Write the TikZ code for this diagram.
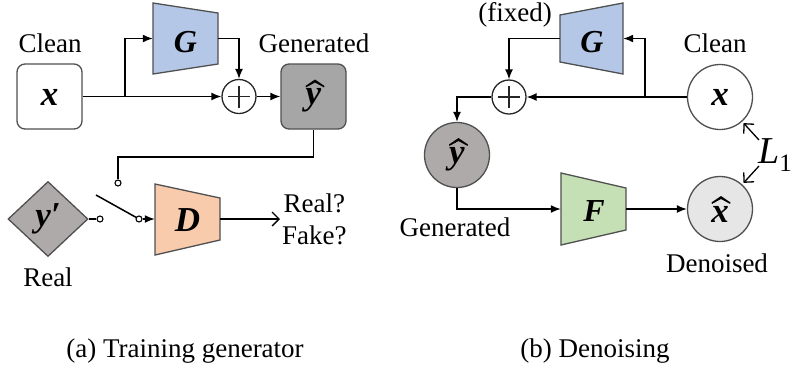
\documentclass[tikz,border=0pt]{standalone}
\usepackage{fontspec}
\setmainfont{Liberation Serif}
\newfontfamily\tms{Liberation Serif}
\usetikzlibrary{arrows.meta,shapes.geometric,calc}
% wide hat: centre x, peak y, end y (y grows downward)
\newcommand\hatmark[3]{\fill (#1-9.5,#3) -- (#1,#2) -- (#1+9.5,#3) -- (#1+9,#3+1.4) -- (#1,#2+3) -- (#1-9,#3+1.4) -- cycle;}
\definecolor{gblue}{HTML}{B4C7E7}
\definecolor{dorange}{HTML}{F8CBAD}
\definecolor{fgreen}{HTML}{C5E0B4}
\definecolor{boxgray}{HTML}{A6A6A6}
\definecolor{warmgray}{HTML}{AEAAAA}
\definecolor{lightgray2}{HTML}{E7E6E6}
\definecolor{bordergray}{HTML}{505050}
\begin{document}
\begin{tikzpicture}[x=1pt,y=-1pt,
  every node/.style={font=\tms\fontsize{27}{32}\selectfont},
  arr/.style={line width=1.5pt,-{Latex[length=10pt,width=8pt]}},
  ln/.style={line width=1.5pt},
  oarr/.style={line width=1.3pt,-{Straight Barb[length=7pt,width=14pt]}},
  bx/.style={draw=bordergray,line width=1.3pt,rounded corners=8pt,minimum width=65pt,minimum height=65pt,inner sep=0pt},
  big/.style={font=\tms\fontsize{35}{35}\selectfont\bfseries\itshape,inner sep=0pt},
  bigg/.style={font=\tms\fontsize{32}{32}\selectfont\bfseries\itshape,inner sep=0pt},
  geo/.style={inner sep=0pt},
  trap/.style={draw=bordergray,line width=1.3pt},
  plus/.style={circle,draw=black!85,line width=1.3pt,minimum size=34pt,inner sep=0pt,fill=white,
    path picture={\draw[line width=1.3pt] ([xshift=-11pt]path picture bounding box.center) -- ([xshift=11pt]path picture bounding box.center)
      ([yshift=-11pt]path picture bounding box.center) -- ([yshift=11pt]path picture bounding box.center);}},
  sw/.style={circle,draw,line width=1.1pt,fill=white,minimum size=6pt,inner sep=0pt},
  rnd/.style={circle,draw=bordergray,line width=1.3pt,minimum size=65pt,inner sep=0pt}
]
\useasboundingbox (0,0) rectangle (793,373);

% ---------------- panel (a) ----------------
\node (cleanA) at (50,43) {Clean};
\node (genA) at (314,43) {Generated};
\node[bx,fill=white] (xA) at (49.5,96.5) {};
\node[big] (xAt) at (49.5,97) {x};
\node[bx,fill=boxgray] (yhA) at (313.5,96.5) {};
\node[big] (yhAt) at (313.5,100.5) {y};
\hatmark{315}{79.5}{86}
\filldraw[trap,fill=gblue] (153,3) -- (218,13) -- (218,64) -- (153,74) -- cycle;
\node[geo,minimum width=65pt,minimum height=71pt] (GA) at (185.5,38.5) {};
\node[bigg] (GAt) at (185.5,42.5) {G};
\node[plus] (plusA) at (239,96.5) {};
\coordinate (splitA) at (125,96.5);
\draw[arr] (xA.east) -- (plusA.west);
\draw[arr] (splitA) |- (GA.west);
\draw[arr] (GA.east) -| (plusA.north);
\draw[arr] (plusA.east) -- (yhA.west);

\node[diamond,draw=bordergray,line width=1.3pt,fill=warmgray,minimum width=80pt,minimum height=75pt,inner sep=0pt,aspect=1] (ypA) at (48,219) {};
\node[big] (ypAt) at (48,219) {y′};
\node (realA) at (48,277) {Real};
\node[sw] (swR) at (100,219) {};
\node[sw] (swT) at (118,183) {};
\node[sw] (swO) at (139,219) {};
\coordinate (bendA) at (118,157);
\coordinate (lev) at (96,195);
\draw[ln] (yhA.south) |- (bendA) -- (swT.north);
\draw[ln] (ypA.east) -- (swR.west);
\draw[ln] (lev) -- (swO);
\filldraw[trap,fill=dorange] (155,184) -- (220,198) -- (220,240) -- (155,255) -- cycle;
\node[geo,minimum width=65pt,minimum height=71pt] (DA) at (187.5,219) {};
\node[big] (DAt) at (187.5,220) {D};
\draw[arr] (swO.east) -- (DA.west);
\node[align=center,inner sep=2pt,anchor=west] (rf) at (280,219) {Real?\\Fake?};
\draw[oarr] (DA.east) -- (rf.west);

% ---------------- panel (b) ----------------
\node (fixedB) at (515,15) {(fixed)};
\node (cleanB) at (715,43) {Clean};
\node (genB) at (455,227) {Generated};
\node (denB) at (717,263) {Denoised};
\filldraw[trap,fill=gblue] (560,15) -- (623,3) -- (623,74) -- (560,62) -- cycle;
\node[geo,minimum width=63pt,minimum height=71pt] (GB) at (591.5,38.5) {};
\node[bigg] (GBt) at (592,42.5) {G};
\node[rnd,fill=white] (xB) at (720,97) {};
\node[big] (xBt) at (720,97) {x};
\node[plus] (plusB) at (509,97) {};
\node[rnd,fill=warmgray] (yhB) at (457,155) {};
\node[big] (yhBt) at (457,159) {y};
\hatmark{458.5}{138}{144.5}
\filldraw[trap,fill=fgreen] (561,173) -- (626,188) -- (626,230) -- (561,245) -- cycle;
\node[geo,minimum width=65pt,minimum height=72pt] (FB) at (593.5,209) {};
\node[bigg] (FBt) at (594,211) {F};
\node[rnd,fill=lightgray2] (xhB) at (720,209) {};
\node[big] (xhBt) at (720,214) {x};
\hatmark{721}{196}{202.5}
\coordinate (splitB) at (645,97);
\draw[arr] (xB.west) -- (plusB.east);
\draw[arr] (splitB) |- (GB.east);
\draw[arr] (GB.west) -| (plusB.north);
\draw[arr] (plusB.west) -| (yhB.north);
\draw[arr] (yhB.south) |- (FB.west);
\draw[arr] (FB.east) -- (xhB.west);
\node[font=\tms\fontsize{38}{38}\selectfont,anchor=base west,inner sep=0pt] (L1) at (758,163) {\textit{L}\raisebox{-8.5pt}{\fontsize{25}{25}\selectfont 1}};
\coordinate (la) at (759,140);
\coordinate (lb) at (759,166);
\draw[oarr,shorten >=2pt] (la) -- (xB.-48);
\draw[oarr,shorten >=2pt] (lb) -- (xhB.48);

% captions
\node (capA) at (185,351) {(a) Training generator};
\node (capB) at (595,351) {(b) Denoising};
\end{tikzpicture}
\end{document}
